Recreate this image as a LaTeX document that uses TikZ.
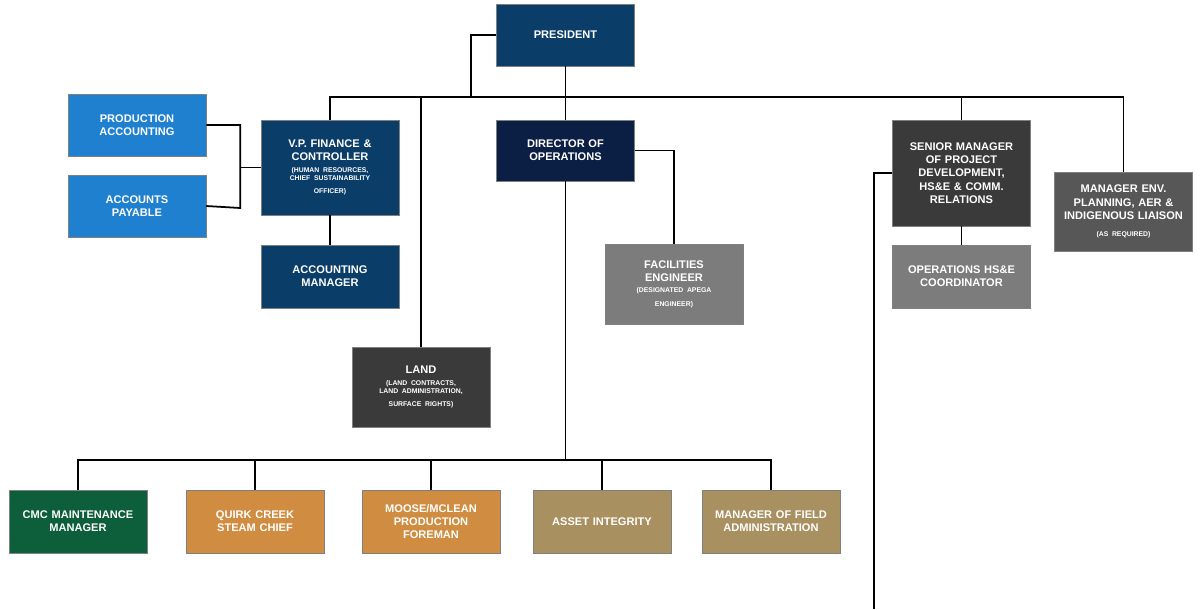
\documentclass[tikz,border=0pt]{standalone}
\usepackage{fontspec}
\setmainfont{Liberation Sans}
\usetikzlibrary{positioning}
\definecolor{navy}{HTML}{0B3D69}
\definecolor{darknavy}{HTML}{0B1F45}
\definecolor{lightblue}{HTML}{1F80CF}
\definecolor{dgray}{HTML}{3A3A3A}
\definecolor{mgray}{HTML}{575757}
\definecolor{lgray}{HTML}{7C7C7C}
\definecolor{green}{HTML}{0D5E3A}
\definecolor{orange}{HTML}{D08C40}
\definecolor{tan}{HTML}{A89060}
\newcommand{\sub}[1]{\\[2pt]{\fontsize{3.9}{4.6}\selectfont #1}}
\begin{document}
\begin{tikzpicture}[x=0.02cm,y=-0.02cm,
  box/.style={draw=black!50,line width=0.3pt,text=white,align=center,
    font=\fontsize{6.3}{7.6}\selectfont\bfseries,
    minimum width=2.76cm,text width=2.6cm,inner sep=0pt},
  link/.style={line width=1pt}]
\useasboundingbox (0,0) rectangle (1200,609);

\node[box,fill=navy,minimum height=1.24cm]      (pres)  at (565.5,35)  {PRESIDENT};
\node[box,fill=lightblue,minimum height=1.24cm] (prod)  at (137,125)   {PRODUCTION\\ACCOUNTING};
\node[box,fill=lightblue,minimum height=1.24cm] (pay)   at (137,206)   {ACCOUNTS\\PAYABLE};
\node[box,fill=navy,minimum height=1.9cm]       (vp)    at (330,167.5) {V.P. FINANCE \&\\CONTROLLER\sub{(HUMAN RESOURCES,\\CHIEF SUSTAINABILITY\\OFFICER)}};
\node[box,fill=navy,minimum height=1.26cm]      (acct)  at (330,276.5) {ACCOUNTING\\MANAGER};
\node[box,fill=darknavy,minimum height=1.22cm]  (dir)   at (565.5,150.5) {DIRECTOR OF\\OPERATIONS};
\node[box,fill=lgray,minimum height=1.6cm]      (fac)   at (674,284)   {FACILITIES\\ENGINEER\sub{(DESIGNATED APEGA\\ENGINEER)}};
\node[box,fill=dgray,minimum height=1.6cm]      (land)  at (421,387)   {LAND\sub{(LAND CONTRACTS,\\LAND ADMINISTRATION,\\SURFACE RIGHTS)}};
\node[box,fill=dgray,minimum height=2.12cm]     (smgr)  at (961.5,173) {SENIOR MANAGER\\OF PROJECT\\DEVELOPMENT,\\HS\&E \& COMM.\\RELATIONS};
\node[box,fill=lgray,minimum height=1.26cm]     (hse)   at (961.5,276.5) {OPERATIONS HS\&E\\COORDINATOR};
\node[box,fill=mgray,minimum height=1.58cm]     (env)   at (1123.5,211.5) {MANAGER ENV.\\PLANNING, AER \&\\INDIGENOUS LIAISON\sub{(AS REQUIRED)}};

\node[box,fill=green,minimum height=1.26cm]  (cmc)   at (78,521.5)  {CMC MAINTENANCE\\MANAGER};
\node[box,fill=orange,minimum height=1.26cm] (quirk) at (255,521.5) {QUIRK CREEK\\STEAM CHIEF};
\node[box,fill=orange,minimum height=1.26cm] (moose) at (431,521.5) {MOOSE/MCLEAN\\PRODUCTION\\FOREMAN};
\node[box,fill=tan,minimum height=1.26cm]    (asset) at (602,521.5) {ASSET INTEGRITY};
\node[box,fill=tan,minimum height=1.26cm]    (field) at (771,521.5) {MANAGER OF FIELD\\ADMINISTRATION};

\coordinate (top)  at (471,97);
\coordinate (bus)  at (565.5,460);
\coordinate (down) at (874,609);

% president level
\draw[link] (pres.west) -| (top);
\draw[link] (pres.south) -- (dir.north);
\draw[link] (vp.north) |- (top) -- (pres.south |- top) -| (smgr.north);
\draw[link] (smgr.north |- top) -| (env.north);
\draw[link] (land.north) -- (land.north |- top);

% finance
\draw[link] (prod.east) -| ++(34,83) -- (pay.east);
\draw[link] (vp.west) -- ++(-21,0);
\draw[link] (vp.south) -- (acct.north);

% operations
\draw[link] (dir.east) -| (fac.north);
\draw[link] (dir.south) -- (bus);
\draw[link] (cmc.north) |- (bus) -| (field.north);
\foreach \b in {quirk,moose,asset}
  \draw[link] (\b.north) -- (\b.north |- bus);

% projects
\draw[link] (smgr.south) -- (hse.north);
\draw[link] (smgr.west) -| (down);
\end{tikzpicture}
\end{document}
